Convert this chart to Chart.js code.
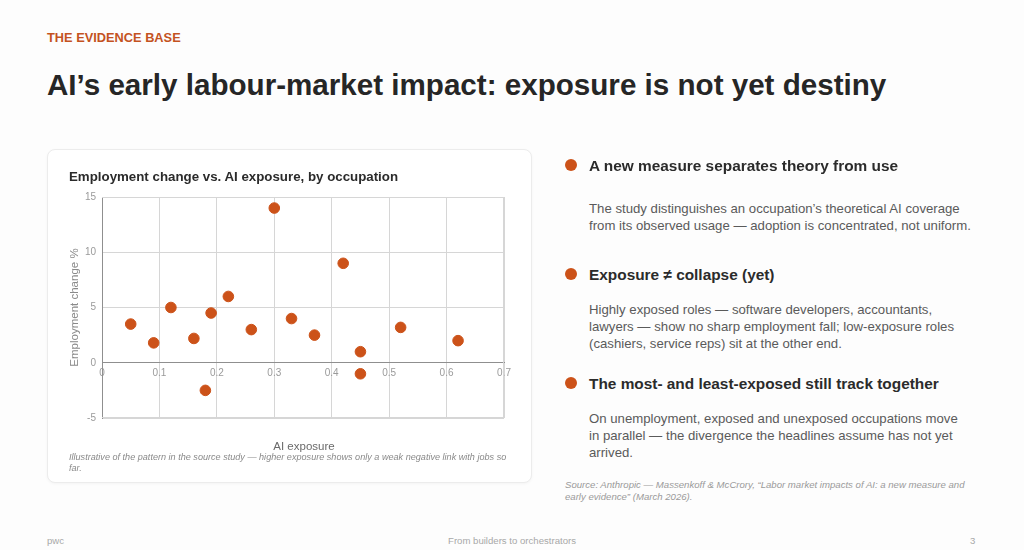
<!DOCTYPE html>
<html>
<head>
<meta charset="utf-8">
<script src="https://cdn.jsdelivr.net/npm/chart.js@4.4.1/dist/chart.umd.min.js"></script>
<style>
  html, body { margin: 0; padding: 0; }
  body {
    width: 1024px; height: 550px; position: relative; overflow: hidden;
    background: #fdfdfd; font-family: "Liberation Sans", Arial, sans-serif; color: #2b2b2b;
  }
  .abs { position: absolute; white-space: nowrap; }
  #kicker { left: 47px; top: 30px; font-size: 12.8px; font-weight: bold; color: #c4531f; }
  #title { left: 47px; top: 68px; font-size: 29.6px; font-weight: bold; color: #262626; }
  #card {
    position: absolute; left: 47px; top: 149px; width: 485px; height: 334px;
    background: #fff; border: 1px solid #ececec; border-radius: 8px; box-sizing: border-box;
    box-shadow: 0 1px 3px rgba(0,0,0,0.04);
  }
  #chartBox { position: absolute; left: -1px; top: -1px; width: 485px; height: 334px; }
  #chartTitle { left: 21px; top: 19px; font-size: 13.3px; font-weight: bold; color: #2b2b2b; }
  #xTitle { left: 0; width: 512px; top: 290px; text-align: center; font-size: 11.5px; color: #6a6a6a; }
  #caption { left: 21px; top: 302px; width: 445px; white-space: normal; font-size: 9.1px; line-height: 11px; font-style: italic; color: #8a8a8a; }
  .dot { position: absolute; left: 565px; width: 12px; height: 12px; border-radius: 50%; background: #cc5219; }
  .head { left: 589px; font-size: 15.4px; font-weight: bold; color: #2b2b2b; }
  .body { left: 589px; font-size: 13.2px; line-height: 17px; color: #5a5a5a; }
  #source { left: 565px; top: 479px; font-size: 9.6px; line-height: 11.5px; font-style: italic; color: #9a9a9a; }
  .foot { top: 535px; font-size: 9.6px; color: #a8a8a8; }
</style>
</head>
<body>
<div id="kicker" class="abs">THE EVIDENCE BASE</div>
<div id="title" class="abs">AI’s early labour-market impact: exposure is not yet destiny</div>

<div id="card">
  <div id="chartBox"><canvas id="scatterChart" width="485" height="334"></canvas></div>
  <div id="chartTitle" class="abs">Employment change vs. AI exposure, by occupation</div>
  <div id="xTitle" class="abs">AI exposure</div>
  <div id="caption" class="abs">Illustrative of the pattern in the source study — higher exposure shows only a weak negative link with jobs so far.</div>
</div>

<div class="dot" style="top:159px"></div>
<div class="abs head" style="top:157px">A new measure separates theory from use</div>
<div class="abs body" style="top:200px">The study distinguishes an occupation’s theoretical AI coverage<br>from its observed usage — adoption is concentrated, not uniform.</div>

<div class="dot" style="top:268px"></div>
<div class="abs head" style="top:266px">Exposure ≠ collapse (yet)</div>
<div class="abs body" style="top:301px">Highly exposed roles — software developers, accountants,<br>lawyers — show no sharp employment fall; low-exposure roles<br>(cashiers, service reps) sit at the other end.</div>

<div class="dot" style="top:377px"></div>
<div class="abs head" style="top:375px">The most- and least-exposed still track together</div>
<div class="abs body" style="top:410px">On unemployment, exposed and unexposed occupations move<br>in parallel — the divergence the headlines assume has not yet<br>arrived.</div>

<div id="source" class="abs">Source: Anthropic — Massenkoff &amp; McCrory, “Labor market impacts of AI: a new measure and<br>early evidence” (March 2026).</div>

<div class="abs foot" style="left:47px">pwc</div>
<div class="abs foot" style="left:0;width:1024px;text-align:center">From builders to orchestrators</div>
<div class="abs foot" style="left:970px">3</div>

<script>
// Datos
const exposicion = [0.05, 0.09, 0.12, 0.16, 0.18, 0.19, 0.22, 0.26, 0.30, 0.33, 0.37, 0.42, 0.45, 0.45, 0.52, 0.62];
const cambioEmpleo = [3.5, 1.8, 5, 2.2, -2.5, 4.5, 6, 3, 14, 4, 2.5, 9, 1, -1, 3.2, 2];
const ticksX = [0, 0.1, 0.2, 0.3, 0.4, 0.5, 0.6, 0.7];
const ticksY = [-5, 0, 5, 10, 15];

const puntos = exposicion.map((x, i) => ({ x: x, y: cambioEmpleo[i] }));

// Color de la cuadrícula: línea del cero más oscura
const colorRejilla = ctx => ctx.tick && ctx.tick.value === 0 ? '#9a9a9a' : '#d6d6d6';

// Inicializar gráfico
const ctx = document.getElementById('scatterChart').getContext('2d');
new Chart(ctx, {
    type: 'scatter',
    data: {
        datasets: [{
            label: 'Ocupaciones',
            data: puntos,
            backgroundColor: '#cc5219',
            borderColor: '#cc5219',
            pointRadius: 5.3,
            pointHoverRadius: 5.3
        }]
    },
    options: {
        responsive: false,
        animation: false,
        devicePixelRatio: 1,
        layout: { padding: { left: 0, top: 48, right: 28, bottom: 65 } },
        plugins: { legend: { display: false }, tooltip: { enabled: false } },
        scales: {
            x: {
                type: 'linear',
                position: { y: 0 },
                min: 0, max: 0.7,
                afterBuildTicks: s => { s.ticks = ticksX.map(v => ({ value: v })); },
                grid: { color: colorRejilla, lineWidth: 1, drawTicks: false },
                border: { display: true, color: '#8f8f8f' },
                ticks: { color: '#9a9a9a', font: { size: 10, family: 'Liberation Sans' }, padding: 4, callback: v => String(v) }
            },
            y: {
                type: 'linear',
                min: -5, max: 15,
                afterBuildTicks: s => { s.ticks = ticksY.map(v => ({ value: v })); },
                afterFit: s => { s.width = 55; },
                grid: { color: colorRejilla, lineWidth: 1, drawTicks: false },
                border: { display: true, color: '#8f8f8f' },
                ticks: { color: '#9a9a9a', font: { size: 10, family: 'Liberation Sans' }, padding: 6 },
                title: {
                    display: true,
                    text: 'Employment change %',
                    color: '#8a8a8a',
                    font: { size: 11.5, family: 'Liberation Sans' },
                    padding: { top: 21, bottom: 0 }
                }
            }
        }
    },
    plugins: [{
        // Marco del área del gráfico (arriba, derecha, abajo)
        id: 'marco',
        beforeDatasetsDraw(chart) {
            const a = chart.chartArea, c = chart.ctx;
            c.save();
            c.strokeStyle = '#d6d6d6';
            c.lineWidth = 1;
            c.beginPath();
            c.moveTo(a.left, a.top + 0.5);
            c.lineTo(a.right, a.top + 0.5);
            c.moveTo(a.right - 0.5, a.top);
            c.lineTo(a.right - 0.5, a.bottom);
            c.moveTo(a.left, a.bottom - 0.5);
            c.lineTo(a.right, a.bottom - 0.5);
            c.stroke();
            c.restore();
        }
    }]
});
</script>
</body>
</html>
